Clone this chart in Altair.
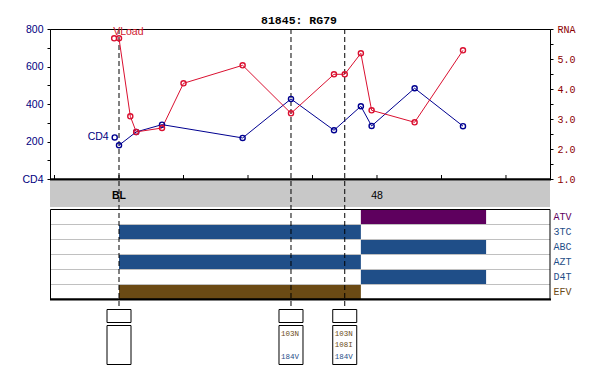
import altair as alt
import pandas as pd

# ---------------- data ----------------
title_text = "81845: RG79"

cd4_weeks = [-0.8, 0, 3.2, 8, 23, 32, 40, 45, 47, 55, 64]
cd4_values = [222, 180, 251, 290, 219, 427, 260, 388, 283, 484, 282]

rna_weeks = [-0.9, 0, 2.1, 3.2, 8, 12, 23, 32, 40, 42, 45, 47, 55, 64]
rna_values = [5.69, 5.69, 3.09, 2.57, 2.70, 4.19, 4.79, 3.19, 4.49, 4.49, 5.19, 3.29, 2.89, 5.29]

drugs = ["ATV", "3TC", "ABC", "AZT", "D4T", "EFV"]
drug_classes = ["PI", "NRTI", "NRTI", "NRTI", "NRTI", "NNRTI"]

reg_drugs = ["3TC", "AZT", "EFV", "ATV", "ABC", "D4T"]
reg_start = [0, 0, 0, 45, 45, 45]
reg_end = [45, 45, 45, 68.3, 68.3, 68.3]

geno_weeks = [0, 32, 42]
mut_weeks = [32, 32, 42, 42, 42]
mut_labels = ["103N", "184V", "103N", "108I", "184V"]
mut_slots = [0, 2, 0, 1, 2]
mut_classes = ["NNRTI", "NRTI", "NNRTI", "NNRTI", "NRTI"]

x_tick_values = [-12, 0, 12, 24, 36, 48, 60, 72]
x_tick_labels = ["", "BL", "", "", "", "48", "", ""]
cd4_tick_values = [0, 100, 200, 300, 400, 500, 600, 700, 800]
rna_tick_values = [1.0, 1.5, 2.0, 2.5, 3.0, 3.5, 4.0, 4.5, 5.0, 5.5, 6.0]

class_names = ["PI", "NRTI", "NNRTI"]
class_colors = ["#5E005E", "#1F4E88", "#6B4A14"]

# ---------------- tables ----------------
cd4_df = pd.DataFrame({"week": cd4_weeks, "value": cd4_values})
cd4_df["connected"] = [i > 0 for i in range(len(cd4_df))]
rna_df = pd.DataFrame({"week": rna_weeks, "value": rna_values})
rna_df["connected"] = [i > 0 for i in range(len(rna_df))]
drug_df = pd.DataFrame({"drug": drugs, "cls": drug_classes})
reg_df = pd.DataFrame({"drug": reg_drugs, "start": reg_start, "end": reg_end})
reg_df["cls"] = reg_df["drug"].map(dict(zip(drugs, drug_classes)))
geno_df = pd.DataFrame({"week": geno_weeks})
mut_df = pd.DataFrame({"week": mut_weeks, "label": mut_labels, "slot": mut_slots, "cls": mut_classes})
tick_df = pd.DataFrame({"week": x_tick_values, "label": x_tick_labels})
one = pd.DataFrame({"t": [title_text]})

# ---------------- styles ----------------
W, H = 500, 338
CD4_COLOR = "#000090"
RNA_COLOR = "#DA1030"
AX_BLUE = "#000080"
AX_RED = "#8B0000"
MONO = "Liberation Mono"
SANS = "Liberation Sans"

x_scale = alt.Scale(domain=[-12.84, 80.19], nice=False, zero=False)
cd4_scale = alt.Scale(domain=[0, 800], range=[150, 0], nice=False, zero=False)
rna_scale = alt.Scale(domain=[1, 6], range=[150, 0], nice=False, zero=False)
drug_scale = alt.Scale(domain=drugs, range=[180.5, 270.5], paddingInner=0, paddingOuter=0)
slot_scale = alt.Scale(domain=[0, 2], range=[304.5, 327.5])
cls_color = alt.Scale(domain=class_names, range=class_colors)

cd4_axis = alt.Axis(
    orient="left", values=cd4_tick_values,
    labelExpr="datum.value == 0 ? 'CD4' : (datum.value % 200 == 0 ? datum.label : '')",
    tickSize=3, labelPadding=4, labelColor=AX_BLUE, labelFont=SANS, labelFontSize=10.5,
    domainColor="black", tickColor="black", grid=False, title=None,
    labelFlush=False, labelOverlap=False, zindex=1,
)
rna_axis = alt.Axis(
    orient="right", values=rna_tick_values,
    labelExpr="datum.value == 6 ? 'RNA' : (datum.value % 1 == 0 ? format(datum.value, '.1f') : '')",
    tickSize=3, labelPadding=4, labelColor=AX_RED, labelFont=MONO, labelFontSize=10,
    domainColor="black", tickColor="black", grid=False, title=None,
    labelFlush=False, labelOverlap=False, zindex=1,
)

def xq(field="week:Q"):
    return alt.X(field, scale=x_scale, axis=None)

# ---------------- layers ----------------
gray_band = alt.Chart(one).mark_rect(color="#C8C8C8").encode(
    x=alt.value(0), x2=alt.value(500), y=alt.value(151.5), y2=alt.value(178))

top_frame = alt.Chart(one).mark_rect(fillOpacity=0, stroke="black", strokeWidth=1).encode(
    x=alt.value(0.5), x2=alt.value(500.5), y=alt.value(0.5), y2=alt.value(150))

# time axis drawn from the tick arrays
axis_line = alt.Chart(one).mark_rule(color="black", strokeWidth=2).encode(
    x=alt.value(0), x2=alt.value(501), y=alt.value(150.5))
tick_marks = alt.Chart(tick_df).mark_rule(color="black", strokeWidth=1).encode(
    x=xq(), y=alt.value(146), y2=alt.value(150))
tick_bold = alt.Chart(tick_df).transform_filter("datum.label == 'BL'").mark_text(
    baseline="alphabetic", font=SANS, fontSize=10.5, fontWeight="bold", color="black").encode(
    x=xq(), y=alt.value(169.5), text="label:N")
tick_plain = alt.Chart(tick_df).transform_filter("datum.label != '' && datum.label != 'BL'").mark_text(
    baseline="alphabetic", font=SANS, fontSize=10.5, color="black").encode(
    x=xq(), y=alt.value(169.5), text="label:N")

bars = alt.Chart(reg_df).mark_rect().encode(
    x=alt.X("start:Q", scale=x_scale, axis=None), x2="end:Q",
    y=alt.Y("drug:N", scale=drug_scale, axis=None),
    color=alt.Color("cls:N", scale=cls_color, legend=None))

separators = alt.Chart(drug_df.iloc[1:]).mark_rule(color="#C0C0C0", strokeWidth=1).encode(
    y=alt.Y("drug:N", scale=drug_scale, axis=None, bandPosition=0),
    x=alt.value(0), x2=alt.value(500))

treat_frame = alt.Chart(one).mark_rect(fillOpacity=0, stroke="black", strokeWidth=1).encode(
    x=alt.value(0.5), x2=alt.value(500), y=alt.value(180.5), y2=alt.value(270))
treat_bottom = alt.Chart(one).mark_rule(color="black", strokeWidth=2).encode(
    x=alt.value(0), x2=alt.value(501), y=alt.value(270.5))

drug_text = alt.Chart(drug_df).mark_text(align="left", baseline="middle", font=MONO, fontSize=10).encode(
    y=alt.Y("drug:N", scale=drug_scale, axis=None), x=alt.value(503.5), text="drug:N",
    color=alt.Color("cls:N", scale=cls_color, legend=None))

dashed = alt.Chart(geno_df).mark_rule(color="black", strokeWidth=1, strokeDash=[5, 3]).encode(
    x=xq(), y=alt.value(0), y2=alt.value(280))

cd4_line = alt.Chart(cd4_df).transform_filter("datum.connected").mark_line(
    color=CD4_COLOR, strokeWidth=1).encode(
    x=xq(), y=alt.Y("value:Q", scale=cd4_scale, axis=None))
cd4_pts = alt.Chart(cd4_df).mark_point(
    shape="circle", size=26, filled=False, color=CD4_COLOR, strokeWidth=1.4, opacity=1).encode(
    x=xq(), y=alt.Y("value:Q", scale=cd4_scale, axis=cd4_axis))
cd4_lab = alt.Chart(cd4_df.iloc[:1]).mark_text(
    text="CD4", align="right", baseline="middle", dx=-6, font=SANS, fontSize=10.5, color=AX_BLUE).encode(
    x=xq(), y=alt.Y("value:Q", scale=cd4_scale, axis=None))

rna_line = alt.Chart(rna_df).transform_filter("datum.connected").mark_line(
    color=RNA_COLOR, strokeWidth=1).encode(
    x=xq(), y=alt.Y("value:Q", scale=rna_scale, axis=None))
rna_pts = alt.Chart(rna_df).mark_point(
    shape="circle", size=26, filled=False, color=RNA_COLOR, strokeWidth=1.4, opacity=1).encode(
    x=xq(), y=alt.Y("value:Q", scale=rna_scale, axis=rna_axis))
rna_lab = alt.Chart(rna_df.iloc[:1]).mark_text(
    text="VLoad", align="left", baseline="alphabetic", dx=-1, dy=-3, font=SANS, fontSize=10.5,
    color="#D02030").encode(
    x=xq(), y=alt.Y("value:Q", scale=rna_scale, axis=None))

box_small = alt.Chart(geno_df).mark_rect(
    fill="white", stroke="black", strokeWidth=1, xOffset=-12, x2Offset=12).encode(
    x=xq(), x2="week:Q", y=alt.value(280.5), y2=alt.value(293.5))
box_tall = alt.Chart(geno_df).mark_rect(
    fill="white", stroke="black", strokeWidth=1, xOffset=-12, x2Offset=12).encode(
    x=xq(), x2="week:Q", y=alt.value(296.5), y2=alt.value(335.5))

mut_text = alt.Chart(mut_df).mark_text(
    align="left", baseline="middle", dx=-10, font=MONO, fontSize=7.5).encode(
    x=xq(), y=alt.Y("slot:Q", scale=slot_scale, axis=None),
    text="label:N",
    color=alt.Color("cls:N", scale=cls_color, legend=None))

title_mark = alt.Chart(one).mark_text(
    align="center", baseline="alphabetic", font=MONO, fontSize=11.5, fontWeight="bold", color="black").encode(
    x=alt.value(249), y=alt.value(-5), text="t:N")

chart = alt.layer(
    gray_band, bars, separators, treat_frame, treat_bottom, top_frame,
    axis_line, tick_marks, tick_bold, tick_plain,
    dashed, cd4_line, rna_line, cd4_pts, rna_pts, cd4_lab, rna_lab,
    drug_text, box_small, box_tall, mut_text, title_mark,
).resolve_scale(y="independent").properties(
    width=W, height=H,
    autosize=alt.AutoSizeParams(type="none"),
    padding={"left": 42, "top": 21, "right": 42, "bottom": 0},
    background="white",
).configure_view(stroke=None)

chart.save("out.html", embed_options={"renderer": "svg", "actions": False})
